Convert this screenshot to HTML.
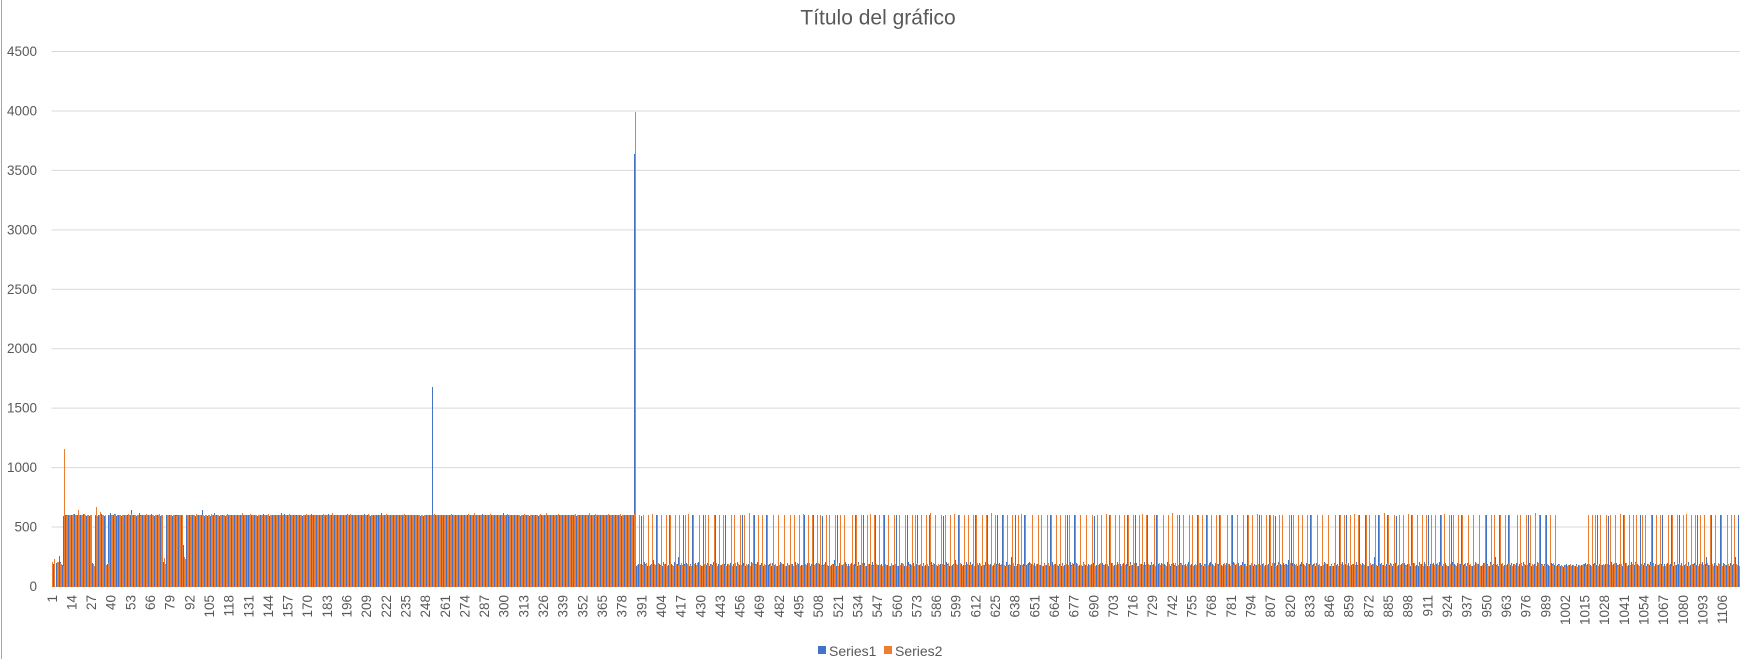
<!DOCTYPE html>
<html><head><meta charset="utf-8"><style>
html,body{margin:0;padding:0;background:#fff;}
body{width:1749px;height:659px;overflow:hidden;position:relative;font-family:"Liberation Sans",sans-serif;}
svg text{font-family:"Liberation Sans",sans-serif;fill:#595959;}
</style></head><body>
<svg id="chart" width="1749" height="659" viewBox="0 0 1749 659" xmlns="http://www.w3.org/2000/svg">
<rect x="0" y="0" width="1749" height="659" fill="#fff"/>
<line x1="1.5" y1="0" x2="1.5" y2="659" stroke="#a6a6a6" stroke-width="1"/>
<text x="878" y="18" font-size="21" text-anchor="middle" dominant-baseline="central">Título del gráfico</text>
<g id="grid"></g><g id="bars"></g><g id="xlabels"></g><g id="ylabels"></g>
<g>
<rect x="818" y="646" width="8" height="8" fill="#4472C4"/>
<text x="829" y="651" font-size="14" dominant-baseline="central">Series1</text>
<rect x="884" y="646" width="8" height="8" fill="#ED7D31"/>
<text x="895" y="651" font-size="14" dominant-baseline="central">Series2</text>
</g>
</svg>
<script>
const yTicks = [0,500,1000,1500,2000,2500,3000,3500,4000,4500];
const s1 = [
0,190,215,200,195,255,205,180,590,
600,605,600,595,605,600,610,590,600,595,600,605,610,600,590,600,595,600,200,180,
600,595,605,600,610,600,590,205,190,600,615,605,600,610,595,600,605,590,600,600,
595,600,0,600,640,600,605,595,600,620,600,600,595,600,585,600,600,610,600,590,
600,605,600,595,600,210,230,600,605,600,600,595,590,600,600,600,605,600,350,250,
600,600,600,595,600,605,590,600,600,600,600,645,590,600,595,600,590,600,600,620,
600,600,595,590,600,600,595,600,600,590,600,600,605,600,600,595,600,600,600,600,
605,600,600,600,595,600,600,590,600,600,600,610,600,600,600,590,600,600,600,600,
595,600,600,620,600,610,600,600,600,600,605,600,600,600,595,600,600,590,600,600,
600,600,600,610,600,600,600,590,600,600,600,600,600,600,610,600,600,600,600,600,
600,595,600,600,600,600,600,610,600,600,600,600,605,600,600,600,600,600,610,600,
600,600,595,600,600,600,600,600,600,620,600,600,600,600,595,600,600,600,600,600,
600,600,600,600,595,600,600,600,600,600,600,600,600,600,600,595,600,590,600,600,
595,600,600,1680,600,600,600,600,605,600,600,600,600,600,600,600,600,600,600,600,
600,600,600,605,600,600,600,600,600,600,600,600,600,600,600,600,610,600,600,600,
600,600,600,600,600,600,600,600,600,600,620,600,600,600,600,600,600,600,600,600,
600,595,600,600,605,600,600,590,600,600,600,600,600,595,600,600,600,605,600,600,
600,600,605,600,600,600,590,600,600,600,600,600,600,600,605,600,600,600,595,600,
600,600,600,595,600,600,600,605,600,600,600,600,600,590,600,600,600,600,600,600,
600,595,600,600,605,600,600,600,590,600,600,600,605,600,600,595,600,3640,
170,190,200,590,180,210,190,170,200,180,190,220,170,600,200,190,180,170,210,190,
200,180,600,190,170,210,180,190,250,180,170,600,190,200,180,170,190,600,180,200,
180,210,190,170,600,190,180,200,170,190,180,210,600,170,190,200,180,170,190,600,
190,170,200,180,190,600,170,210,180,190,600,200,170,180,190,170,210,180,600,190,
210,190,180,200,170,190,600,180,190,170,200,180,190,170,600,210,180,190,200,170,
200,180,600,190,170,210,180,190,250,180,170,600,190,200,180,170,190,600,180,200,
170,190,200,590,180,210,190,170,200,180,190,220,170,600,200,190,180,170,210,190,
190,170,200,180,190,600,170,210,180,190,600,200,170,180,190,170,210,180,600,190,
180,210,190,170,600,190,180,200,170,190,180,210,600,170,190,200,180,170,190,600,
210,190,180,200,170,190,600,180,190,170,200,180,190,170,600,210,180,190,200,170,
170,190,200,590,180,210,190,170,200,180,190,220,170,600,200,190,180,170,210,190,
180,210,190,170,600,190,180,200,170,190,180,210,600,170,190,200,180,170,190,600,
200,180,600,190,170,210,180,190,250,180,170,600,190,200,180,170,190,600,180,200,
210,190,180,200,170,190,600,180,190,170,200,180,190,170,600,210,180,190,200,170,
190,170,200,180,190,600,170,210,180,190,600,200,170,180,190,170,210,180,600,190,
170,190,200,590,180,210,190,170,200,180,190,220,170,600,200,190,180,170,210,190,
190,170,200,180,190,600,170,210,180,190,600,200,170,180,190,170,210,180,600,190,
180,210,190,170,600,190,180,200,170,190,180,210,600,170,190,200,180,170,190,600,
200,180,600,190,170,210,180,190,250,180,170,600,190,200,180,170,190,600,180,200,
210,190,180,200,170,190,600,180,190,170,200,180,190,170,600,210,180,190,200,170,
180,210,190,170,600,190,180,200,170,190,180,210,600,170,190,200,180,170,190,600,
170,190,200,590,180,210,190,170,200,180,190,220,170,600,200,190,180,170,210,190,
210,190,180,200,170,190,600,180,190,170,200,180,190,170,600,210,180,190,200,170,
190,170,200,180,190,600,170,210,180,190,600,200,170,180,190,170,210,180,600,190,
200,180,600,190,170,210,180,190,250,180,170,600,190,200,180,170,190,600,180,200,
170,190,200,590,180,210,190,170,200,180,190,220,170,600,200,190,180,170,210,190,
180,210,190,170,600,190,180,200,170,190,180,210,600,170,190,200,180,170,190,600,
210,190,180,200,170,190,600,180,190,170,200,180,190,170,600,210,180,190,200,170,
200,180,600,190,170,210,180,190,250,180,170,600,190,200,180,170,190,600,180,200,
190,170,200,180,190,600,170,210,180,190,600,200,170,180,190,170,210,180,600,190,
170,190,600,180,170,200,190,180,170,180,190,170,180,160,180,190,170,180,170,180,
180,170,190,180,170,180,170,190,200,190,600,180,170,190,200,180,600,190,170,180,
170,190,200,590,180,210,190,170,200,180,190,220,170,600,200,190,180,170,210,190,
180,210,190,170,600,190,180,200,170,190,180,210,600,170,190,200,180,170,190,600,
190,170,200,180,190,600,170,210,180,190,600,200,170,180,190,170,210,180,600,190,
200,180,600,190,170,210,180,190,250,180,170,600,190,200,180,170,190,600,180,200,
190,180,600,170,200,180,190,250,180,600
];
const s2 = [
210,235,0,205,210,200,190,175,1160,
595,600,600,605,600,610,600,600,640,600,600,600,610,600,600,605,600,600,190,175,
665,590,600,630,600,600,600,180,200,600,600,600,600,610,600,600,600,605,600,600,
600,610,600,610,600,600,605,600,600,595,600,600,600,610,600,600,600,600,605,600,
600,600,610,600,600,240,190,600,600,605,600,600,600,595,600,600,600,605,250,230,
600,605,600,600,600,600,610,600,600,600,600,600,605,600,600,600,610,600,600,600,
600,600,605,600,600,600,600,610,600,600,600,605,600,600,600,600,600,620,600,600,
600,600,610,600,600,600,600,600,605,600,600,600,600,600,610,600,600,600,600,600,
600,605,600,600,600,600,600,600,610,600,600,600,605,600,600,600,600,600,600,610,
600,600,600,600,605,600,600,600,600,600,610,600,600,600,600,600,620,600,600,600,
600,600,605,600,600,600,600,600,610,600,600,600,600,600,605,600,600,600,600,600,
610,600,600,600,600,605,600,600,600,600,600,600,610,600,600,600,600,600,605,600,
600,600,600,600,610,600,600,600,600,600,605,600,600,600,600,600,600,600,600,600,
600,600,600,600,610,600,600,600,600,605,600,600,600,600,600,610,600,600,600,600,
605,600,600,600,600,600,610,600,600,600,620,600,600,600,605,600,600,600,600,600,
600,610,600,600,600,600,605,600,600,600,600,600,610,600,600,600,600,600,605,600,
600,600,600,610,600,600,600,600,605,600,600,600,600,600,610,600,600,600,620,600,
605,600,600,600,600,600,610,600,600,600,600,605,600,600,600,600,600,610,600,600,
600,600,605,600,600,600,620,600,600,600,610,600,600,600,605,600,600,600,600,610,
600,600,605,600,600,600,600,610,600,600,600,605,600,600,600,600,610,3990,
180,600,190,170,600,180,200,600,170,180,610,190,180,600,200,170,600,180,190,600,
170,190,600,180,170,600,190,180,600,200,180,170,600,190,610,180,170,600,190,180,
200,600,180,170,190,600,180,600,170,190,180,600,200,170,600,180,190,600,180,170,
190,180,600,170,600,200,180,190,600,180,170,600,190,180,620,170,200,600,180,190,
600,180,170,600,190,180,600,170,200,180,600,190,170,600,180,200,190,600,170,180,
180,600,190,170,600,180,200,600,170,180,610,190,180,600,200,170,600,180,190,600,
200,600,180,170,190,600,180,600,170,190,180,600,200,170,600,180,190,600,180,170,
170,190,600,180,170,600,190,180,600,200,180,170,600,190,610,180,170,600,190,180,
600,180,170,600,190,180,600,170,200,180,600,190,170,600,180,200,190,600,170,180,
190,180,600,170,600,200,180,190,600,180,170,600,190,180,620,170,200,600,180,190,
180,600,190,170,600,180,200,600,170,180,610,190,180,600,200,170,600,180,190,600,
190,180,600,170,600,200,180,190,600,180,170,600,190,180,620,170,200,600,180,190,
170,190,600,180,170,600,190,180,600,200,180,170,600,190,610,180,170,600,190,180,
200,600,180,170,190,600,180,600,170,190,180,600,200,170,600,180,190,600,180,170,
600,180,170,600,190,180,600,170,200,180,600,190,170,600,180,200,190,600,170,180,
180,600,190,170,600,180,200,600,170,180,610,190,180,600,200,170,600,180,190,600,
170,190,600,180,170,600,190,180,600,200,180,170,600,190,610,180,170,600,190,180,
190,180,600,170,600,200,180,190,600,180,170,600,190,180,620,170,200,600,180,190,
200,600,180,170,190,600,180,600,170,190,180,600,200,170,600,180,190,600,180,170,
600,180,170,600,190,180,600,170,200,180,600,190,170,600,180,200,190,600,170,180,
180,600,190,170,600,180,200,600,170,180,610,190,180,600,200,170,600,180,190,600,
200,600,180,170,190,600,180,600,170,190,180,600,200,170,600,180,190,600,180,170,
600,180,170,600,190,180,600,170,200,180,600,190,170,600,180,200,190,600,170,180,
170,190,600,180,170,600,190,180,600,200,180,170,600,190,610,180,170,600,190,180,
190,180,600,170,600,200,180,190,600,180,170,600,190,180,620,170,200,600,180,190,
180,600,190,170,600,180,200,600,170,180,610,190,180,600,200,170,600,180,190,600,
170,190,600,180,170,600,190,180,600,200,180,170,600,190,610,180,170,600,190,180,
600,180,170,600,190,180,600,170,200,180,600,190,170,600,180,200,190,600,170,180,
200,600,180,170,190,600,180,600,170,190,180,600,200,170,600,180,190,600,180,170,
190,180,600,170,600,200,180,190,600,180,170,600,190,180,620,170,200,600,180,190,
180,600,190,170,600,180,200,600,170,180,190,180,170,160,180,170,180,190,170,180,
170,180,160,180,170,180,190,170,180,600,190,170,600,180,600,190,170,600,180,190,
180,600,190,170,600,180,200,600,170,180,610,190,180,600,200,170,600,180,190,600,
200,600,180,170,190,600,180,600,170,190,180,600,200,170,600,180,190,600,180,170,
170,190,600,180,170,600,190,180,600,200,180,170,600,190,610,180,170,600,190,180,
600,180,170,600,190,180,600,170,200,180,600,190,170,600,180,200,190,600,170,180,
180,600,190,170,600,180,600,190,180,170
];
const N = 1117;
const categories = [];
for (let i = 1; i <= N; i++) categories.push(i);

const NS = 'http://www.w3.org/2000/svg';
const plotL = 51.5, plotR = 1740, y0 = 586.5, yTop = 51.5, yMax = 4500;
const cw = (plotR - plotL) / N;
function xPos(i){ return plotL + i * cw; }
function yPos(v){ return y0 - (v / yMax) * (y0 - yTop); }

const grid = document.getElementById('grid');
const ylab = document.getElementById('ylabels');
yTicks.forEach(t => {
  const l = document.createElementNS(NS, 'line');
  l.setAttribute('x1', plotL); l.setAttribute('x2', plotR);
  l.setAttribute('y1', yPos(t)); l.setAttribute('y2', yPos(t));
  l.setAttribute('stroke', '#d9d9d9'); l.setAttribute('stroke-width', '1');
  
  
  grid.appendChild(l);
  const tx = document.createElementNS(NS, 'text');
  tx.setAttribute('x', 37); tx.setAttribute('y', yPos(t));
  tx.setAttribute('text-anchor', 'end'); tx.setAttribute('dominant-baseline', 'central');
  tx.setAttribute('font-size', '13.5');
  tx.textContent = t;
  
  
  ylab.appendChild(tx);
});

const bars = document.getElementById('bars');
const n = Math.min(N, s1.length, s2.length);
let p1 = '', p2 = '';
for (let i = 0; i < n; i++) {
  const x = xPos(i);
  const xa = Math.floor(x), xb = Math.floor(x + cw * 0.5);
  const xb2 = xb === xa ? xa + 1 : xb;
  if (s1[i] > 0) { const y = Math.round(yPos(s1[i])); p1 += 'M' + xa + ' 587V' + y + 'h1V587Z'; }
  if (s2[i] > 0) { const y = Math.round(yPos(s2[i])); p2 += 'M' + xb2 + ' 587V' + y + 'h1V587Z'; }
}
const b1 = document.createElementNS(NS, 'path');
b1.setAttribute('d', p1); b1.setAttribute('fill', '#4472C4');
b1.setAttribute('shape-rendering', 'crispEdges');


bars.appendChild(b1);
const b2 = document.createElementNS(NS, 'path');
b2.setAttribute('d', p2); b2.setAttribute('fill', '#ED7D31');
b2.setAttribute('shape-rendering', 'crispEdges');


bars.appendChild(b2);

const xl = document.getElementById('xlabels');
for (let i = 0; i < N; i += 13) {
  const cx = xPos(i) + cw / 2;
  const tx = document.createElementNS(NS, 'text');
  tx.setAttribute('transform', 'translate(' + cx.toFixed(2) + ',595) rotate(-90)');
  tx.setAttribute('text-anchor', 'end'); tx.setAttribute('dominant-baseline', 'central');
  tx.setAttribute('font-size', '13.5');
  tx.textContent = categories[i];
  
  
  xl.appendChild(tx);
}
</script>
</body></html>
